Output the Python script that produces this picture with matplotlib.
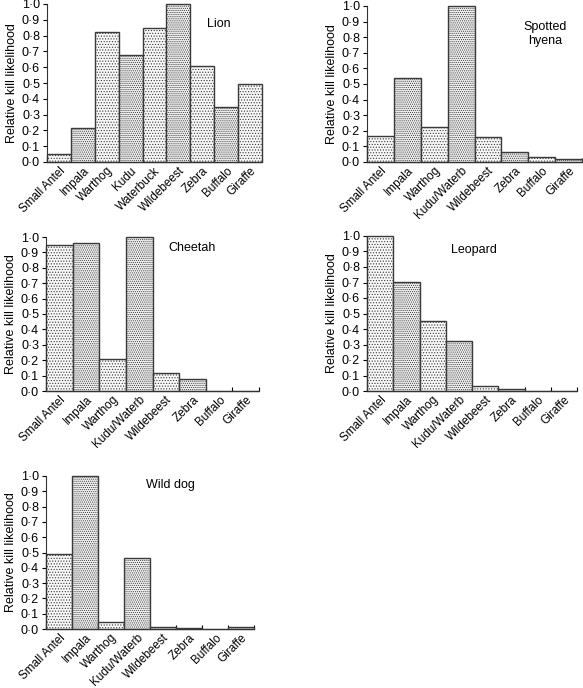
import matplotlib
matplotlib.use("Agg")
import matplotlib.pyplot as plt
import numpy as np

plt.rcParams['font.family'] = ['Liberation Sans', 'DejaVu Sans']
plt.rcParams['hatch.linewidth'] = 0.5
plt.rcParams['hatch.color'] = '#606060'

cats_lion = ["Small Antel", "Impala", "Warthog", "Kudu", "Waterbuck",
             "Wildebeest", "Zebra", "Buffalo", "Giraffe"]
vals_lion = [0.05, 0.215, 0.82, 0.68, 0.85, 1.0, 0.61, 0.35, 0.495]

cats_other = ["Small Antel", "Impala", "Warthog", "Kudu/Waterb",
              "Wildebeest", "Zebra", "Buffalo", "Giraffe"]
vals_hyena = [0.165, 0.54, 0.225, 1.0, 0.16, 0.065, 0.03, 0.02]
vals_cheetah = [0.95, 0.96, 0.21, 1.0, 0.12, 0.08, 0.0, 0.0]
vals_leopard = [1.0, 0.705, 0.45, 0.325, 0.03, 0.015, 0.003, 0.003]
vals_wilddog = [0.49, 1.0, 0.045, 0.465, 0.01, 0.008, 0.0, 0.01]

yticks = np.round(np.arange(0, 1.01, 0.1), 1)
ytick_labels = [f"{v:.1f}".replace(".", "\u00b7") for v in yticks]

W, H = 583, 688
fig = plt.figure(figsize=(W / 100, H / 100), dpi=100)

def px_axes(l, r, t, b):
    return fig.add_axes([l / W, 1 - b / H, (r - l) / W, (b - t) / H])

panels = [
    (cats_lion, vals_lion, "Lion", (47, 262, 4, 162), (0.80, 0.873)),
    (cats_other, vals_hyena, "Spotted\nhyena", (367, 582, 6, 162), (0.828, 0.82)),
    (cats_other, vals_cheetah, "Cheetah", (46, 259, 237, 391), (0.685, 0.93)),
    (cats_other, vals_leopard, "Leopard", (367, 577, 236, 391), (0.51, 0.91)),
    (cats_other, vals_wilddog, "Wild dog", (46, 254, 476, 629), (0.60, 0.94)),
]

for cats, vals, title, (l, r, t, b), (tx, ty) in panels:
    ax = px_axes(l, r, t, b)
    n = len(cats)
    x = np.arange(n)
    for i in range(n):
        if i % 2 == 0:
            hatch, fc = '......', '#f8f8f8'
        else:
            hatch, fc = '........', '#eeeeee'
        ax.bar(x[i], vals[i], width=1.0, facecolor=fc, edgecolor='#3a3a3a',
               linewidth=1.0, hatch=hatch, clip_on=False, zorder=2)
    ax.set_xlim(-0.5, n - 0.5)
    ax.set_ylim(0, 1.0)
    ax.set_yticks(yticks)
    ax.set_yticklabels(ytick_labels, fontsize=9)
    ax.set_xticks(x)
    ax.set_xticklabels(cats, rotation=45, ha='right', va='top',
                       rotation_mode='anchor', fontsize=8.5)
    ax.set_xticks(np.arange(n + 1) - 0.5, minor=True)
    ax.tick_params(axis='x', which='major', length=0, pad=2)
    ax.tick_params(axis='x', which='minor', length=3, direction='in', width=0.8)
    ax.tick_params(axis='y', length=3, width=0.8, pad=2)
    ax.spines['top'].set_visible(False)
    ax.spines['right'].set_visible(False)
    for s in ('left', 'bottom'):
        ax.spines[s].set_linewidth(0.8)
        ax.spines[s].set_color('#333333')
    ax.set_ylabel("Relative kill likelihood", fontsize=9, labelpad=3)
    ax.text(tx, ty, title, transform=ax.transAxes, fontsize=9,
            ha='center', va='center', linespacing=1.2)

fig.savefig("out.png", dpi=100)
